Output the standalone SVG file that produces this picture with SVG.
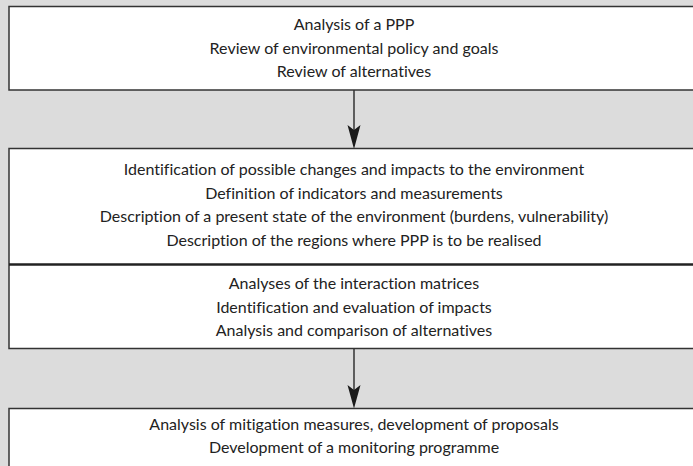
<svg xmlns="http://www.w3.org/2000/svg" width="693" height="466" viewBox="0 0 693 466">
  <style>
    .box { fill: #ffffff; stroke: #333333; stroke-width: 1.5; }
    .divider { stroke: #222222; stroke-width: 2.5; }
    .conn { stroke: #1a1a1a; stroke-width: 1.3; fill: none; }
    .head { fill: #1a1a1a; stroke: none; }
    text { font-family: "Lato", "Open Sans", sans-serif; font-size: 16px; fill: #222222; text-anchor: middle; font-variant-ligatures: none; }
  </style>
  <rect x="0" y="0" width="693" height="466" fill="#dcdcdc"/>

  <g id="connectors">
    <line class="conn" x1="354" y1="90" x2="354" y2="130"/>
    <path class="head" d="M347.5,125 L354,130 L360.5,125 L354,149 Z"/>
    <line class="conn" x1="354" y1="349" x2="354" y2="390"/>
    <path class="head" d="M347.5,385 L354,390 L360.5,385 L354,408.5 Z"/>
  </g>

  <g id="analysis">
    <rect class="box" x="9" y="6.5" width="700" height="83.5"/>
    <text x="354" y="30">Analysis of a PPP</text>
    <text x="354" y="53.5">Review of environmental policy and goals</text>
    <text x="354" y="77">Review of alternatives</text>
  </g>

  <g id="identification">
    <rect class="box" x="9" y="148.5" width="700" height="200"/>
    <text x="354" y="175">Identification of possible changes and impacts to the environment</text>
    <text x="354" y="198.5">Definition of indicators and measurements</text>
    <text x="354" y="222">Description of a present state of the environment (burdens, vulnerability)</text>
    <text x="354" y="245.5">Description of the regions where PPP is to be realised</text>
    <line class="divider" x1="9" y1="264.5" x2="700" y2="264.5"/>
    <text x="354" y="289">Analyses of the interaction matrices</text>
    <text x="354" y="312.5">Identification and evaluation of impacts</text>
    <text x="354" y="336">Analysis and comparison of alternatives</text>
  </g>

  <g id="mitigation">
    <rect class="box" x="9" y="408.5" width="700" height="70"/>
    <text x="354" y="429.5">Analysis of mitigation measures, development of proposals</text>
    <text x="354" y="453">Development of a monitoring programme</text>
  </g>
</svg>
